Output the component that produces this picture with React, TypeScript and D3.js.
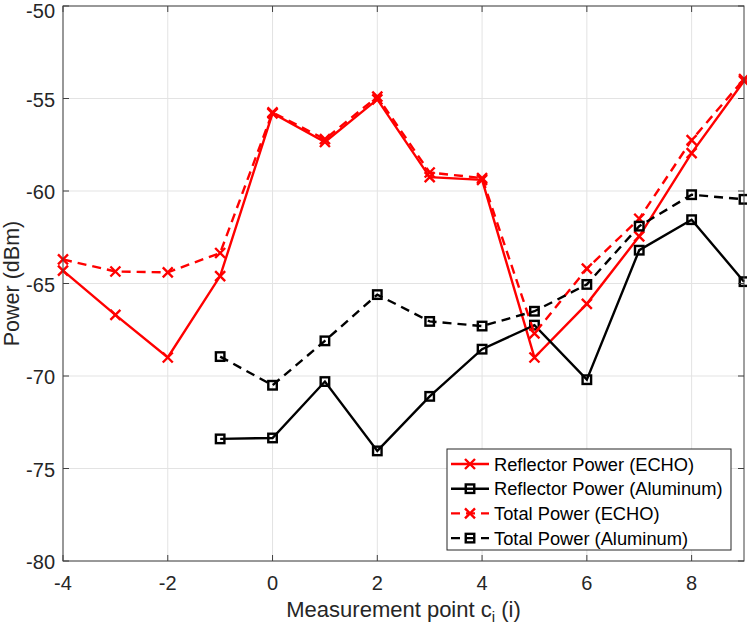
import React, { useEffect, useRef } from 'react';
import * as d3 from 'd3';

const echoPoints = [-4, -3, -2, -1, 0, 1, 2, 3, 4, 5, 6, 7, 8, 9];
const aluminumPoints = [-1, 0, 1, 2, 3, 4, 5, 6, 7, 8, 9];

const reflectorEcho = [-64.3, -66.7, -69.0, -64.6, -55.8, -57.35, -55.05, -59.25, -59.4, -69.0, -66.1, -62.45, -57.95, -54.05];
const reflectorAluminum = [-73.4, -73.35, -70.3, -74.05, -71.1, -68.55, -67.25, -70.2, -63.2, -61.55, -64.9];
const totalEcho = [-63.7, -64.35, -64.4, -63.35, -55.75, -57.2, -54.9, -59.0, -59.3, -67.7, -64.2, -61.5, -57.25, -53.95];
const totalAluminum = [-68.95, -70.5, -68.1, -65.6, -67.05, -67.3, -66.5, -65.05, -61.9, -60.2, -60.45];

const xTicks = [-4, -2, 0, 2, 4, 6, 8];
const yTicks = [-80, -75, -70, -65, -60, -55, -50];

interface Series {
  name: string;
  xs: number[];
  ys: number[];
  color: string;
  dashed: boolean;
  marker: 'x' | 'square';
}

const series: Series[] = [
  { name: 'Reflector Power (ECHO)', xs: echoPoints, ys: reflectorEcho, color: '#ff0000', dashed: false, marker: 'x' },
  { name: 'Reflector Power (Aluminum)', xs: aluminumPoints, ys: reflectorAluminum, color: '#000000', dashed: false, marker: 'square' },
  { name: 'Total Power (ECHO)', xs: echoPoints, ys: totalEcho, color: '#ff0000', dashed: true, marker: 'x' },
  { name: 'Total Power (Aluminum)', xs: aluminumPoints, ys: totalAluminum, color: '#000000', dashed: true, marker: 'square' },
];

const W = 747;
const H = 630;
const FONT = '"Liberation Sans", Arial, Helvetica, sans-serif';
const LW = 2.4;

function drawMarker(g: d3.Selection<SVGGElement, unknown, null, undefined>, kind: string, cx: number, cy: number, color: string) {
  if (kind === 'x') {
    const r = 5;
    g.append('path')
      .attr('d', `M${cx - r},${cy - r}L${cx + r},${cy + r}M${cx - r},${cy + r}L${cx + r},${cy - r}`)
      .attr('stroke', color)
      .attr('stroke-width', LW)
      .attr('fill', 'none');
  } else {
    const s = 8.5;
    g.append('rect')
      .attr('x', cx - s / 2)
      .attr('y', cy - s / 2)
      .attr('width', s)
      .attr('height', s)
      .attr('stroke', color)
      .attr('stroke-width', LW)
      .attr('fill', 'none');
  }
}

const PowerChart: React.FC = () => {
  const svgRef = useRef<SVGSVGElement>(null);

  useEffect(() => {
    if (!svgRef.current) return;
    const margin = { top: 6, right: 3, bottom: 69, left: 63 };

    const svg = d3.select(svgRef.current);
    svg.selectAll('*').remove();

    const x = d3.scaleLinear().domain([-4, 9]).range([margin.left, W - margin.right]);
    const y = d3.scaleLinear().domain([-80, -50]).range([H - margin.bottom, margin.top]);
    const [x0, x1] = x.range();
    const [y0, y1] = y.range();

    // grid
    const grid = svg.append('g').attr('stroke', '#e3e3e3').attr('stroke-width', 1);
    xTicks.forEach(t => {
      grid.append('line').attr('x1', x(t)).attr('x2', x(t)).attr('y1', y0).attr('y2', y1);
    });
    yTicks.forEach(t => {
      grid.append('line').attr('x1', x0).attr('x2', x1).attr('y1', y(t)).attr('y2', y(t));
    });

    // series
    series.forEach(s => {
      const pts = s.xs.map((v, i) => [v, s.ys[i]] as [number, number]);
      const line = d3.line<[number, number]>().x(d => x(d[0])).y(d => y(d[1]));
      svg.append('path')
        .attr('d', line(pts) || '')
        .attr('fill', 'none')
        .attr('stroke', s.color)
        .attr('stroke-width', LW)
        .attr('stroke-dasharray', s.dashed ? '9,6' : null);
      const mg = svg.append('g');
      pts.forEach(p => drawMarker(mg, s.marker, x(p[0]), y(p[1]), s.color));
    });

    // axes box and ticks
    const ax = svg.append('g').attr('stroke', '#404040').attr('stroke-width', 1).attr('fill', 'none');
    ax.append('rect').attr('x', x0).attr('y', y1).attr('width', x1 - x0).attr('height', y0 - y1);
    const tl = 6;
    xTicks.forEach(t => {
      ax.append('line').attr('x1', x(t)).attr('x2', x(t)).attr('y1', y0).attr('y2', y0 - tl);
      ax.append('line').attr('x1', x(t)).attr('x2', x(t)).attr('y1', y1).attr('y2', y1 + tl);
    });
    yTicks.forEach(t => {
      ax.append('line').attr('x1', x0).attr('x2', x0 + tl).attr('y1', y(t)).attr('y2', y(t));
      ax.append('line').attr('x1', x1).attr('x2', x1 - tl).attr('y1', y(t)).attr('y2', y(t));
    });

    const labels = svg.append('g').attr('font-family', FONT).attr('fill', '#262626');
    xTicks.forEach(t => {
      labels.append('text')
        .attr('x', x(t)).attr('y', y0 + 29)
        .attr('text-anchor', 'middle')
        .attr('font-size', 20)
        .text(String(t));
    });
    yTicks.forEach(t => {
      labels.append('text')
        .attr('x', x0 - 8).attr('y', Math.max(y(t) + 8, 18))
        .attr('text-anchor', 'end')
        .attr('font-size', 20)
        .text(String(t));
    });

    // axis titles
    const xl = labels.append('text')
      .attr('x', (x0 + x1) / 2).attr('y', 617)
      .attr('text-anchor', 'middle')
      .attr('font-size', 22);
    xl.append('tspan').text('Measurement point c');
    xl.append('tspan').attr('font-size', 15).attr('dy', 5).text('i');
    xl.append('tspan').attr('dy', -5).text(' (i)');

    labels.append('text')
      .attr('transform', `translate(19,${(y0 + y1) / 2}) rotate(-90)`)
      .attr('text-anchor', 'middle')
      .attr('font-size', 21.5)
      .text('Power (dBm)');

    // legend
    const lg = svg.append('g');
    lg.append('rect')
      .attr('x', 447).attr('y', 449).attr('width', 284).attr('height', 101)
      .attr('fill', '#ffffff').attr('stroke', '#262626').attr('stroke-width', 1);
    series.forEach((s, i) => {
      const cy = 464 + i * 24.7;
      lg.append('line')
        .attr('x1', 451).attr('x2', 489).attr('y1', cy).attr('y2', cy)
        .attr('stroke', s.color).attr('stroke-width', LW)
        .attr('stroke-dasharray', s.dashed ? '9,6' : null);
      drawMarker(lg, s.marker, 470, cy, s.color);
      lg.append('text')
        .attr('x', 494).attr('y', cy + 6.5)
        .attr('font-family', FONT).attr('font-size', 18.3).attr('fill', '#000')
        .text(s.name);
    });
  }, []);

  return (
    <svg ref={svgRef} width={W} height={H} viewBox={`0 0 ${W} ${H}`}
      style={{ position: 'absolute', left: 0, top: 0, background: '#fff' }} />
  );
};

export default function App() {
  return <PowerChart />;
}
